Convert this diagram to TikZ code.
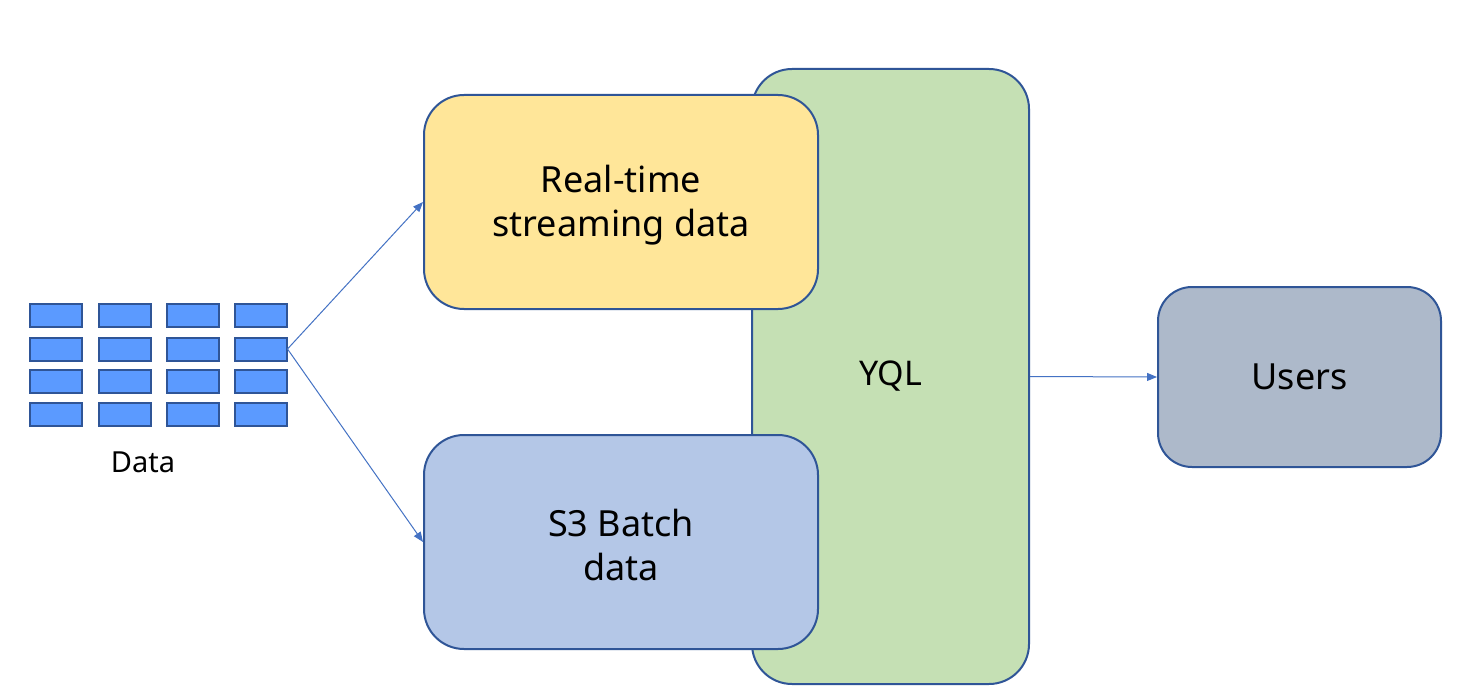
\documentclass[tikz,border=0pt]{standalone}
\usepackage{fontspec}
\setmainfont{Noto Sans}
\usetikzlibrary{arrows.meta}
\definecolor{bordc}{HTML}{2F5597}
\definecolor{yelc}{HTML}{FFE699}
\definecolor{bluec}{HTML}{B4C7E7}
\definecolor{grnc}{HTML}{C5E0B4}
\definecolor{usrc}{HTML}{ADB9CA}
\definecolor{cellc}{HTML}{5B9AFF}
\definecolor{arrc}{HTML}{4472C4}
\begin{document}
\begin{tikzpicture}[x=0.5pt,y=-0.5pt,
  box/.style={draw=bordc,line width=1pt,rounded corners=20pt,align=center,inner sep=0pt,font=\fontsize{18}{22}\selectfont},
  boxtext/.style={align=center,font=\fontsize{18}{22}\selectfont,yshift=-1.5pt},
  cell/.style={draw=bordc,fill=cellc,line width=1pt,minimum width=26pt,minimum height=11.5pt,inner sep=0pt},
  conn/.style={draw=arrc,line width=0.5pt,-{Triangle[length=5pt,width=4pt]}}]
\useasboundingbox[fill=white] (0,0) rectangle (1460,700);
\node[box,fill=grnc,minimum width=138.5pt,minimum height=307.5pt,font=\fontsize{17}{20}\selectfont] (yql) at (890.5,376.5) {YQL};
\node[box,fill=yelc,minimum width=197pt,minimum height=107pt,label={[boxtext]center:Real-time\\streaming data}] (rt) at (621,202) {};
\node[box,fill=bluec,minimum width=197pt,minimum height=107pt,label={[boxtext]center:S3 Batch\\data}] (s3) at (621,542) {};
\node[box,fill=usrc,minimum width=141.5pt,minimum height=90pt,rounded corners=17pt] (users) at (1299.5,377) {Users};
\foreach \c/\x in {1/56,2/124.5,3/192.5,4/260.5}{
  \foreach \r/\y in {1/315.5,2/349,3/381.5,4/414.5}{
    \node[cell] (c\c\r) at (\x,\y) {};
  }
}
\node[font=\fontsize{14.5}{17}\selectfont] (datalbl) at (143,462) {Data};
\draw[conn] (c42.east) -- (rt.west);
\draw[conn] (c42.east) -- (s3.west);
\draw[conn] (yql.east) -- (users.west);
\end{tikzpicture}
\end{document}
